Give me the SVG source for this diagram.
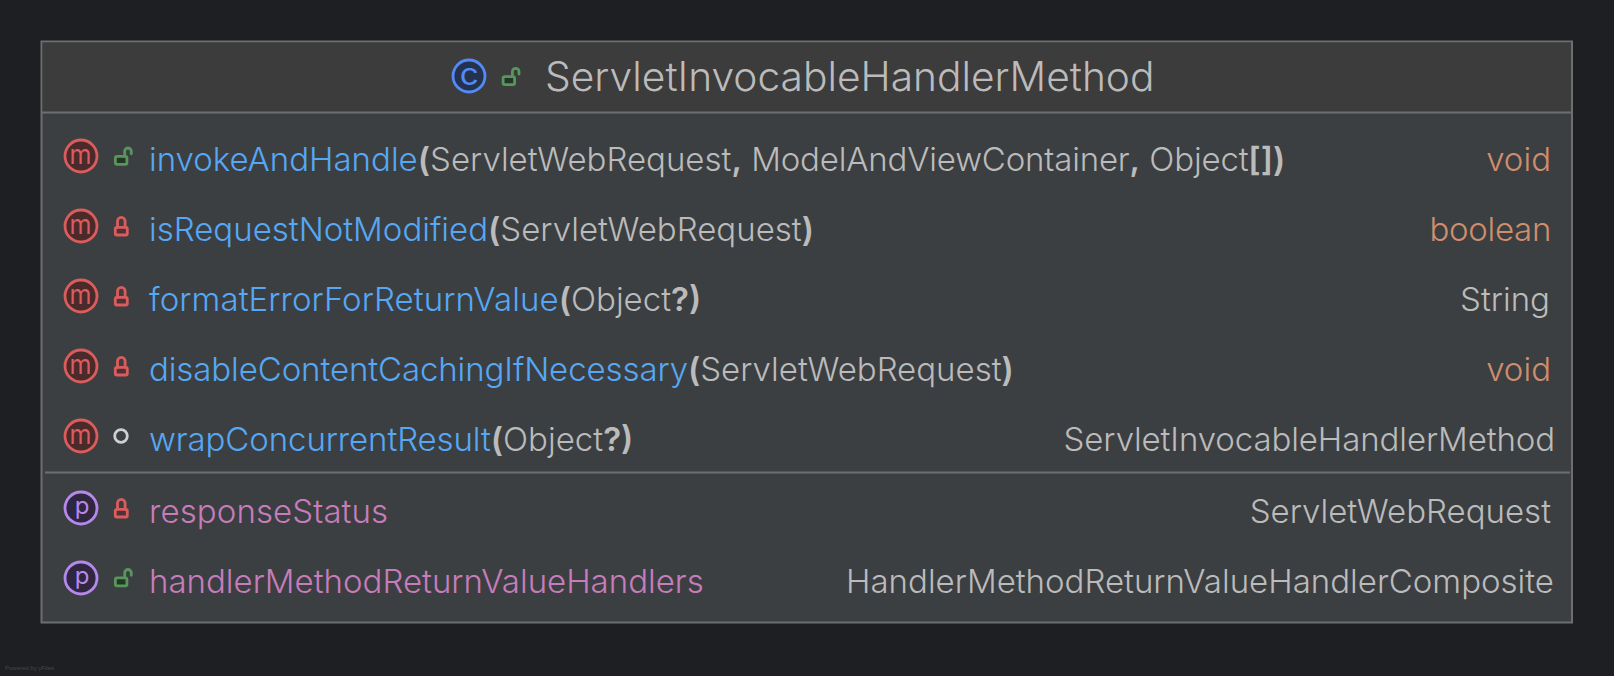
<svg xmlns="http://www.w3.org/2000/svg" width="1614" height="676" viewBox="0 0 1614 676">
<style>
text{font-family:Inter,"Noto Sans",sans-serif;font-size:33px;fill:#bbbbbb;font-weight:350}
.t{font-size:40.700px}
.m{fill:#56a8f5}
.f{fill:#c77dbb}
.k{fill:#cf8e6d}
.b{font-weight:600}
.e{text-anchor:end}
.ic{font-size:27px;text-anchor:middle;font-weight:400}
.im{fill:#db5c5c}
.ip{fill:#b589ec;font-size:24px}
.mc{fill:#4a2a2a;stroke:#db5c5c;stroke-width:2.8}
.pc{fill:#2f2640;stroke:#b589ec;stroke-width:2.8}
.lk{fill:#253627;stroke:#57965c;stroke-width:2.8}
.ll{fill:#4f3237;stroke:#db5c5c;stroke-width:2.8}
.sh{fill:none;stroke-width:2.8;stroke-linecap:round}
</style>
<defs>
<g id="open"><rect x="-6.600" y="-.6" width="11.500" height="7.900" rx="1.500" class="lk"/><path d="M2.700-.6V-5.700a3.300 3.300 0 0 1 6.600 0v2.500" class="sh" stroke="#57965c"/></g>
<g id="lock"><rect x="-6" y=".4" width="12" height="7.600" rx="1.500" class="ll"/><path d="M-3.800 .4V-5.800a3.800 3.800 0 0 1 7.600 0V.4" class="sh" stroke="#db5c5c"/></g>
</defs>
<rect width="1614" height="676" fill="#1e1f22"/>
<g id="node-class">
<rect x="41.500" y="41.500" width="1530.500" height="581" fill="#3c3f41" stroke="#6e6e6e" stroke-width="2"/>
<rect x="42.500" y="42.500" width="1528.500" height="70" fill="#3c3c3c"/>
<path d="M42 112.500H1571M45 472.500H1570" stroke="#6e6e6e" stroke-width="2" fill="none"/>
<g id="title">
<circle cx="469" cy="76" r="16" fill="#25324d" stroke="#548af7" stroke-width="2.800"/>
<text x="469.300" y="84.800" class="ic" style="fill:#548af7;font-size:30px" textLength="19" lengthAdjust="spacingAndGlyphs">c</text>
<use href="#open" x="509.700" y="77.300"/>
<text x="545" y="91" class="t">ServletInvocableHandlerMethod</text>
</g>
</g>
<g id="member-1"><circle cx="81" cy="156" r="16" class="mc"/><text x="80.500" y="163.500" class="ic im" textLength="22" lengthAdjust="spacingAndGlyphs">m</text><use href="#open" x="122" y="157"/>
<text x="149" y="170.500"><tspan class="m">invokeAndHandle</tspan><tspan class="b">(</tspan>ServletWebRequest<tspan class="b">,</tspan> <tspan letter-spacing="-0.180">ModelAndViewContainer</tspan><tspan class="b">,</tspan> <tspan letter-spacing="-0.180">Object</tspan><tspan class="b">[])</tspan></text><text x="1551" y="170.500" class="e k">void</text></g>
<g id="member-2"><circle cx="81" cy="226" r="16" class="mc"/><text x="80.500" y="233.500" class="ic im" textLength="22" lengthAdjust="spacingAndGlyphs">m</text><use href="#lock" x="121.300" y="227"/>
<text x="149" y="240.500"><tspan class="m">isRequestNotModified</tspan><tspan class="b">(</tspan>ServletWebRequest<tspan class="b">)</tspan></text><text x="1551" y="240.500" class="e k" letter-spacing="-0.300">boolean</text></g>
<g id="member-3"><circle cx="81" cy="296" r="16" class="mc"/><text x="80.500" y="303.500" class="ic im" textLength="22" lengthAdjust="spacingAndGlyphs">m</text><use href="#lock" x="121.300" y="297"/>
<text x="149" y="310.500"><tspan class="m" letter-spacing="0.080">formatErrorForReturnValue</tspan><tspan class="b">(</tspan>Object<tspan class="b">?)</tspan></text><text x="1550" y="310.500" class="e">String</text></g>
<g id="member-4"><circle cx="81" cy="366" r="16" class="mc"/><text x="80.500" y="373.500" class="ic im" textLength="22" lengthAdjust="spacingAndGlyphs">m</text><use href="#lock" x="121.300" y="367"/>
<text x="149" y="380.500"><tspan class="m" letter-spacing="-0.100">disableContentCachingIfNecessary</tspan><tspan class="b">(</tspan>ServletWebRequest<tspan class="b">)</tspan></text><text x="1551" y="380.500" class="e k">void</text></g>
<g id="member-5"><circle cx="81" cy="436" r="16" class="mc"/><text x="80.500" y="443.500" class="ic im" textLength="22" lengthAdjust="spacingAndGlyphs">m</text><circle cx="121" cy="436" r="6.300" fill="none" stroke="#cfcfcf" stroke-width="2.800"/>
<text x="149" y="450.500"><tspan class="m" letter-spacing="-0.100">wrapConcurrentResult</tspan><tspan class="b">(</tspan>Object<tspan class="b">?)</tspan></text><text x="1555" y="450.500" class="e" letter-spacing="-0.100">ServletInvocableHandlerMethod</text></g>
<g id="member-6"><circle cx="81" cy="508" r="16" class="pc"/><text x="82" y="514" class="ic ip">p</text><use href="#lock" x="121.300" y="509"/>
<text x="149" y="522.500" class="f" letter-spacing="0.100">responseStatus</text><text x="1551" y="522.500" class="e">ServletWebRequest</text></g>
<g id="member-7"><circle cx="81" cy="578" r="16" class="pc"/><text x="82" y="584" class="ic ip">p</text><use href="#open" x="122" y="578.500"/>
<text x="149" y="592.500" class="f">handlerMethodReturnValueHandlers</text><text x="1554" y="592.500" class="e">HandlerMethodReturnValueHandlerComposite</text></g>
<text x="5" y="670" style="font-size:6px;fill:#484848;font-weight:400;font-family:'Liberation Sans',sans-serif">Powered by yFiles</text>
</svg>
